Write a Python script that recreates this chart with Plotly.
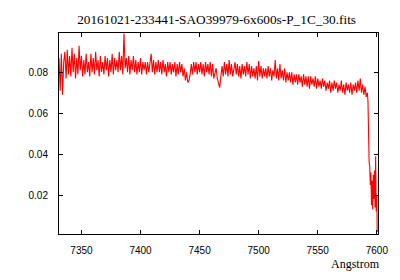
import plotly.graph_objects as go

TITLE = "20161021-233441-SAO39979-6x600s-P_1C_30.fits"

# Regular part of the spectrum: one sample per Angstrom starting at 7331
wave_start = 7331.0
wave_step = 1.0
flux_main = [
    0.087, 0.071, 0.089, 0.069, 0.085,
    0.090, 0.077, 0.091, 0.079, 0.088, 0.078, 0.092, 0.080, 0.089, 0.077,
    0.087, 0.079, 0.093, 0.081, 0.088, 0.078, 0.086, 0.079, 0.089, 0.080,
    0.085, 0.078, 0.089, 0.080, 0.087, 0.079, 0.090, 0.081, 0.086, 0.078,
    0.088, 0.080, 0.085, 0.079, 0.088, 0.081, 0.087, 0.078, 0.086, 0.080,
    0.089, 0.079, 0.087, 0.081, 0.086, 0.080, 0.090, 0.081, 0.088, 0.079,
    0.099, 0.082, 0.087, 0.080, 0.088, 0.079, 0.086, 0.081, 0.088, 0.080,
    0.086, 0.079, 0.085, 0.080, 0.087, 0.079, 0.085, 0.081, 0.085, 0.079,
    0.085, 0.080, 0.084, 0.089, 0.080, 0.086, 0.079, 0.085, 0.080, 0.086,
    0.080, 0.085, 0.079, 0.086, 0.080, 0.084, 0.078, 0.085, 0.080, 0.085,
    0.079, 0.084, 0.080, 0.085, 0.078, 0.084, 0.079, 0.085, 0.080, 0.084,
    0.078, 0.082, 0.076, 0.080, 0.075, 0.076, 0.079, 0.084, 0.079, 0.085,
    0.080, 0.085, 0.079, 0.084, 0.080, 0.085, 0.079, 0.084, 0.078, 0.085,
    0.080, 0.084, 0.079, 0.085, 0.078, 0.084, 0.077, 0.080, 0.082, 0.077,
    0.075, 0.0725, 0.078, 0.083, 0.078, 0.085, 0.079, 0.084, 0.078, 0.086,
    0.079, 0.084, 0.078, 0.083, 0.085, 0.079, 0.084, 0.078, 0.083, 0.077,
    0.084, 0.079, 0.083, 0.078, 0.085, 0.079, 0.084, 0.077, 0.083, 0.078,
    0.082, 0.077, 0.083, 0.076, 0.0855, 0.078, 0.083, 0.077, 0.082, 0.078,
    0.082, 0.077, 0.083, 0.078, 0.082, 0.076, 0.081, 0.078, 0.086, 0.077,
    0.082, 0.076, 0.084, 0.077, 0.081, 0.076, 0.082, 0.075, 0.080, 0.076,
    0.080, 0.075, 0.080, 0.074, 0.079, 0.075, 0.079, 0.074, 0.079, 0.075,
    0.078, 0.073, 0.079, 0.074, 0.078, 0.073, 0.078, 0.072, 0.078, 0.074,
    0.077, 0.073, 0.078, 0.072, 0.077, 0.073, 0.076, 0.072, 0.077, 0.073,
    0.076, 0.071, 0.075, 0.072, 0.076, 0.070, 0.075, 0.071, 0.076, 0.072,
    0.075, 0.070, 0.074, 0.071, 0.076, 0.070, 0.074, 0.069, 0.075, 0.071,
    0.074, 0.070, 0.075, 0.069, 0.074, 0.071, 0.075, 0.070, 0.076, 0.071,
    0.077, 0.070, 0.074, 0.069, 0.073, 0.068, 0.070,
]

# Red edge of the spectrum, sampled more finely
wave_tail = [7592.5, 7593.0, 7593.5, 7594.0, 7594.5, 7595.0, 7595.5, 7596.0,
             7596.5, 7597.0, 7597.5, 7598.0, 7598.5, 7599.0, 7599.5, 7600.0, 7600.3]
flux_tail = [0.066, 0.043, 0.036, 0.034, 0.025, 0.031, 0.015, 0.027,
             0.013, 0.030, 0.018, 0.032, 0.014, 0.039, 0.012, 0.020, 0.002]

x_ticks = [7350, 7400, 7450, 7500, 7550, 7600]
y_ticks = [0.02, 0.04, 0.06, 0.08]

wave = [wave_start + i * wave_step for i in range(len(flux_main))] + wave_tail
flux = flux_main + flux_tail

fig = go.Figure()
fig.add_trace(go.Scatter(x=wave, y=flux, mode="lines",
                         line=dict(color="#ff0000", width=1.1),
                         showlegend=False))

axis_common = dict(showline=True, linecolor="black", linewidth=1, mirror="ticks",
                   ticks="inside", ticklen=4, tickcolor="black", tickwidth=1,
                   showgrid=False, zeroline=False,
                   tickfont=dict(family="Liberation Sans", size=10, color="black"))

# The page body has an 8 px default margin, so the figure box is 392 x 272
fig.update_layout(
    width=392, height=272,
    margin=dict(l=51, r=18, t=25, b=46),
    paper_bgcolor="white", plot_bgcolor="white",
    title=dict(text=TITLE, xref="paper", x=0.494, xanchor="center",
               y=1 - 11 / 272, yanchor="middle",
               font=dict(family="Liberation Serif", size=13.3, color="black")),
    xaxis=dict(range=[7331, 7601], tickvals=x_ticks, ticklabelstandoff=7, **axis_common),
    yaxis=dict(range=[0.001, 0.0992], tickvals=y_ticks, tickformat=".2f",
               ticklabelstandoff=8, **axis_common),
    annotations=[dict(text="Angstrom", xref="paper", yref="paper", x=1, y=0,
                      xanchor="right", yanchor="middle", xshift=4, yshift=-29.5,
                      showarrow=False,
                      font=dict(family="Liberation Serif", size=12, color="black"))],
)

fig.write_html("out.html")
